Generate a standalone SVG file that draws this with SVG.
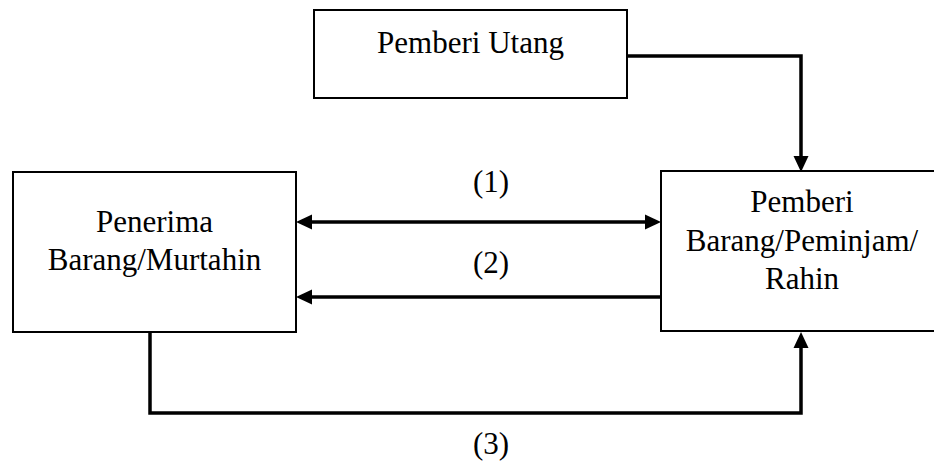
<svg xmlns="http://www.w3.org/2000/svg" width="934" height="464" viewBox="0 0 934 464">
<style>
.box{fill:#fff;stroke:#000;stroke-width:2}
text{font-family:'Liberation Serif','Times New Roman',Times,serif;font-size:31px;fill:#000;text-anchor:middle}
.c{fill:none;stroke:#000;stroke-width:3.5;stroke-linejoin:miter}
</style>
<defs>
<marker id="ah" markerUnits="userSpaceOnUse" markerWidth="16" markerHeight="15" refX="0" refY="7.5" orient="auto-start-reverse" overflow="visible">
<path d="M0,0 L16,7.5 L0,15 Z" fill="#000"/>
</marker>
</defs>
<rect width="934" height="464" fill="#fff"/>
<g id="connectors">
<path class="c" d="M627,56 H801 V156" marker-end="url(#ah)"/>
<path class="c" d="M312,222 H645" marker-start="url(#ah)" marker-end="url(#ah)"/>
<path class="c" d="M661,297 H312" marker-end="url(#ah)"/>
<path class="c" d="M150,332 V413 H801 V348" marker-end="url(#ah)"/>
<text x="491" y="192" font-family="Liberation Serif, serif">(1)</text>
<text x="491" y="273" font-family="Liberation Serif, serif">(2)</text>
<text x="491" y="454" font-family="Liberation Serif, serif">(3)</text>
</g>
<g id="pemberi-utang">
<rect class="box" x="314" y="10" width="313" height="88"/>
<text x="470.5" y="53" font-family="Liberation Serif, serif">Pemberi Utang</text>
</g>
<g id="penerima">
<rect class="box" x="13" y="172" width="283" height="160"/>
<text x="154.5" y="232" font-family="Liberation Serif, serif">Penerima</text>
<text x="154.5" y="270" font-family="Liberation Serif, serif">Barang/Murtahin</text>
</g>
<g id="pemberi-barang">
<rect class="box" x="661" y="171" width="282" height="160"/>
<text x="802" y="212" font-family="Liberation Serif, serif">Pemberi</text>
<text x="802" y="251" font-family="Liberation Serif, serif">Barang/Peminjam/</text>
<text x="802" y="289" font-family="Liberation Serif, serif">Rahin</text>
</g>
</svg>
